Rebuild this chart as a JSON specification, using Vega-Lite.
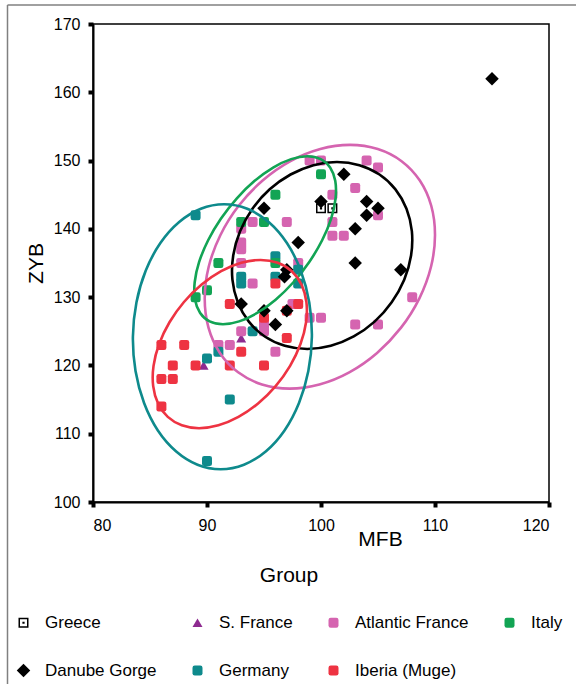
{
  "$schema": "https://vega.github.io/schema/vega-lite/v6.json",
  "width": 456,
  "height": 478,
  "autosize": {"type": "none"},
  "padding": {"left": 93, "top": 24, "right": 27, "bottom": 182},
  "background": "white",
  "config": {
    "font": "Liberation Sans",
    "view": {"stroke": "#000", "strokeWidth": 1.5},
    "axis": {
      "grid": false,
      "domainColor": "#000",
      "domainWidth": 2,
      "tickColor": "#000",
      "tickSize": 5,
      "tickWidth": 4,
      "labelColor": "#000",
      "labelFontSize": 16,
      "labelFont": "Liberation Sans",
      "titleColor": "#000",
      "titleFontSize": 21,
      "titleFontWeight": "normal",
      "titleFont": "Liberation Sans"
    }
  },
  "datasets": {
    "pts": [
      {"g": "S. France", "MFB": 93, "ZYB": 124},
      {"g": "S. France", "MFB": 89.7, "ZYB": 120},
      {"g": "Greece", "MFB": 100, "ZYB": 143},
      {"g": "Greece", "MFB": 101, "ZYB": 143},
      {"g": "Atlantic France", "MFB": 99, "ZYB": 150},
      {"g": "Atlantic France", "MFB": 100, "ZYB": 150},
      {"g": "Atlantic France", "MFB": 104, "ZYB": 150},
      {"g": "Atlantic France", "MFB": 105, "ZYB": 149},
      {"g": "Atlantic France", "MFB": 101, "ZYB": 145},
      {"g": "Atlantic France", "MFB": 103, "ZYB": 146},
      {"g": "Atlantic France", "MFB": 105, "ZYB": 142},
      {"g": "Atlantic France", "MFB": 101, "ZYB": 141},
      {"g": "Atlantic France", "MFB": 101, "ZYB": 139},
      {"g": "Atlantic France", "MFB": 102, "ZYB": 139},
      {"g": "Atlantic France", "MFB": 94, "ZYB": 141},
      {"g": "Atlantic France", "MFB": 97, "ZYB": 141},
      {"g": "Atlantic France", "MFB": 93, "ZYB": 140},
      {"g": "Atlantic France", "MFB": 93, "ZYB": 138},
      {"g": "Atlantic France", "MFB": 93, "ZYB": 137},
      {"g": "Atlantic France", "MFB": 93, "ZYB": 135},
      {"g": "Atlantic France", "MFB": 94, "ZYB": 132},
      {"g": "Atlantic France", "MFB": 98, "ZYB": 135},
      {"g": "Atlantic France", "MFB": 97.5, "ZYB": 129},
      {"g": "Atlantic France", "MFB": 99, "ZYB": 127},
      {"g": "Atlantic France", "MFB": 100, "ZYB": 127},
      {"g": "Atlantic France", "MFB": 103, "ZYB": 126},
      {"g": "Atlantic France", "MFB": 105, "ZYB": 126},
      {"g": "Atlantic France", "MFB": 108, "ZYB": 130},
      {"g": "Atlantic France", "MFB": 95, "ZYB": 126},
      {"g": "Atlantic France", "MFB": 95, "ZYB": 125},
      {"g": "Atlantic France", "MFB": 93, "ZYB": 125},
      {"g": "Atlantic France", "MFB": 91, "ZYB": 123},
      {"g": "Atlantic France", "MFB": 92, "ZYB": 123},
      {"g": "Atlantic France", "MFB": 96, "ZYB": 122},
      {"g": "Germany", "MFB": 89, "ZYB": 142},
      {"g": "Germany", "MFB": 96, "ZYB": 136},
      {"g": "Germany", "MFB": 96, "ZYB": 133},
      {"g": "Germany", "MFB": 93, "ZYB": 133},
      {"g": "Germany", "MFB": 93, "ZYB": 132},
      {"g": "Germany", "MFB": 98, "ZYB": 134},
      {"g": "Germany", "MFB": 98, "ZYB": 132},
      {"g": "Germany", "MFB": 94, "ZYB": 125},
      {"g": "Germany", "MFB": 91, "ZYB": 122},
      {"g": "Germany", "MFB": 90, "ZYB": 121},
      {"g": "Germany", "MFB": 92, "ZYB": 115},
      {"g": "Germany", "MFB": 90, "ZYB": 106},
      {"g": "Italy", "MFB": 100, "ZYB": 148},
      {"g": "Italy", "MFB": 96, "ZYB": 145},
      {"g": "Italy", "MFB": 93, "ZYB": 141},
      {"g": "Italy", "MFB": 95, "ZYB": 141},
      {"g": "Italy", "MFB": 91, "ZYB": 135},
      {"g": "Italy", "MFB": 96, "ZYB": 135},
      {"g": "Italy", "MFB": 90, "ZYB": 131},
      {"g": "Italy", "MFB": 89, "ZYB": 130},
      {"g": "Iberia (Muge)", "MFB": 96, "ZYB": 132},
      {"g": "Iberia (Muge)", "MFB": 92, "ZYB": 129},
      {"g": "Iberia (Muge)", "MFB": 98, "ZYB": 129},
      {"g": "Iberia (Muge)", "MFB": 95, "ZYB": 127},
      {"g": "Iberia (Muge)", "MFB": 97, "ZYB": 128},
      {"g": "Iberia (Muge)", "MFB": 97, "ZYB": 124},
      {"g": "Iberia (Muge)", "MFB": 86, "ZYB": 123},
      {"g": "Iberia (Muge)", "MFB": 88, "ZYB": 123},
      {"g": "Iberia (Muge)", "MFB": 93, "ZYB": 122},
      {"g": "Iberia (Muge)", "MFB": 87, "ZYB": 120},
      {"g": "Iberia (Muge)", "MFB": 89, "ZYB": 120},
      {"g": "Iberia (Muge)", "MFB": 92, "ZYB": 120},
      {"g": "Iberia (Muge)", "MFB": 95, "ZYB": 120},
      {"g": "Iberia (Muge)", "MFB": 86, "ZYB": 118},
      {"g": "Iberia (Muge)", "MFB": 87, "ZYB": 118},
      {"g": "Iberia (Muge)", "MFB": 86, "ZYB": 114},
      {"g": "Danube Gorge", "MFB": 115, "ZYB": 162},
      {"g": "Danube Gorge", "MFB": 102, "ZYB": 148},
      {"g": "Danube Gorge", "MFB": 95, "ZYB": 143},
      {"g": "Danube Gorge", "MFB": 100, "ZYB": 144},
      {"g": "Danube Gorge", "MFB": 104, "ZYB": 144},
      {"g": "Danube Gorge", "MFB": 105, "ZYB": 143},
      {"g": "Danube Gorge", "MFB": 104, "ZYB": 142},
      {"g": "Danube Gorge", "MFB": 103, "ZYB": 140},
      {"g": "Danube Gorge", "MFB": 98, "ZYB": 138},
      {"g": "Danube Gorge", "MFB": 103, "ZYB": 135},
      {"g": "Danube Gorge", "MFB": 107, "ZYB": 134},
      {"g": "Danube Gorge", "MFB": 97, "ZYB": 134},
      {"g": "Danube Gorge", "MFB": 96.8, "ZYB": 133},
      {"g": "Danube Gorge", "MFB": 93, "ZYB": 129},
      {"g": "Danube Gorge", "MFB": 95, "ZYB": 128},
      {"g": "Danube Gorge", "MFB": 97, "ZYB": 128},
      {"g": "Danube Gorge", "MFB": 96, "ZYB": 126}
    ],
    "ell": [
      {"g": "Danube Gorge", "i": 0, "MFB": 107.9, "ZYB": 136.1},
      {"g": "Danube Gorge", "i": 1, "MFB": 107.97, "ZYB": 139.65},
      {"g": "Danube Gorge", "i": 2, "MFB": 107.5, "ZYB": 142.95},
      {"g": "Danube Gorge", "i": 3, "MFB": 106.53, "ZYB": 145.79},
      {"g": "Danube Gorge", "i": 4, "MFB": 105.13, "ZYB": 147.96},
      {"g": "Danube Gorge", "i": 5, "MFB": 103.37, "ZYB": 149.33},
      {"g": "Danube Gorge", "i": 6, "MFB": 101.4, "ZYB": 149.8},
      {"g": "Danube Gorge", "i": 7, "MFB": 99.34, "ZYB": 149.33},
      {"g": "Danube Gorge", "i": 8, "MFB": 97.33, "ZYB": 147.96},
      {"g": "Danube Gorge", "i": 9, "MFB": 95.5, "ZYB": 145.79},
      {"g": "Danube Gorge", "i": 10, "MFB": 93.99, "ZYB": 142.95},
      {"g": "Danube Gorge", "i": 11, "MFB": 92.9, "ZYB": 139.65},
      {"g": "Danube Gorge", "i": 12, "MFB": 92.3, "ZYB": 136.1},
      {"g": "Danube Gorge", "i": 13, "MFB": 92.23, "ZYB": 132.55},
      {"g": "Danube Gorge", "i": 14, "MFB": 92.7, "ZYB": 129.25},
      {"g": "Danube Gorge", "i": 15, "MFB": 93.67, "ZYB": 126.41},
      {"g": "Danube Gorge", "i": 16, "MFB": 95.07, "ZYB": 124.24},
      {"g": "Danube Gorge", "i": 17, "MFB": 96.83, "ZYB": 122.87},
      {"g": "Danube Gorge", "i": 18, "MFB": 98.8, "ZYB": 122.4},
      {"g": "Danube Gorge", "i": 19, "MFB": 100.86, "ZYB": 122.87},
      {"g": "Danube Gorge", "i": 20, "MFB": 102.87, "ZYB": 124.24},
      {"g": "Danube Gorge", "i": 21, "MFB": 104.7, "ZYB": 126.41},
      {"g": "Danube Gorge", "i": 22, "MFB": 106.2, "ZYB": 129.25},
      {"g": "Danube Gorge", "i": 23, "MFB": 107.3, "ZYB": 132.55},
      {"g": "Atlantic France", "i": 0, "MFB": 109.65, "ZYB": 134.45},
      {"g": "Atlantic France", "i": 1, "MFB": 110.0, "ZYB": 139.07},
      {"g": "Atlantic France", "i": 2, "MFB": 109.67, "ZYB": 143.38},
      {"g": "Atlantic France", "i": 3, "MFB": 108.67, "ZYB": 147.07},
      {"g": "Atlantic France", "i": 4, "MFB": 107.07, "ZYB": 149.91},
      {"g": "Atlantic France", "i": 5, "MFB": 104.98, "ZYB": 151.69},
      {"g": "Atlantic France", "i": 6, "MFB": 102.55, "ZYB": 152.3},
      {"g": "Atlantic France", "i": 7, "MFB": 99.94, "ZYB": 151.69},
      {"g": "Atlantic France", "i": 8, "MFB": 97.32, "ZYB": 149.91},
      {"g": "Atlantic France", "i": 9, "MFB": 94.88, "ZYB": 147.07},
      {"g": "Atlantic France", "i": 10, "MFB": 92.78, "ZYB": 143.38},
      {"g": "Atlantic France", "i": 11, "MFB": 91.17, "ZYB": 139.07},
      {"g": "Atlantic France", "i": 12, "MFB": 90.15, "ZYB": 134.45},
      {"g": "Atlantic France", "i": 13, "MFB": 89.8, "ZYB": 129.83},
      {"g": "Atlantic France", "i": 14, "MFB": 90.13, "ZYB": 125.53},
      {"g": "Atlantic France", "i": 15, "MFB": 91.13, "ZYB": 121.83},
      {"g": "Atlantic France", "i": 16, "MFB": 92.73, "ZYB": 118.99},
      {"g": "Atlantic France", "i": 17, "MFB": 94.82, "ZYB": 117.21},
      {"g": "Atlantic France", "i": 18, "MFB": 97.25, "ZYB": 116.6},
      {"g": "Atlantic France", "i": 19, "MFB": 99.86, "ZYB": 117.21},
      {"g": "Atlantic France", "i": 20, "MFB": 102.48, "ZYB": 118.99},
      {"g": "Atlantic France", "i": 21, "MFB": 104.92, "ZYB": 121.83},
      {"g": "Atlantic France", "i": 22, "MFB": 107.02, "ZYB": 125.53},
      {"g": "Atlantic France", "i": 23, "MFB": 108.63, "ZYB": 129.83},
      {"g": "Italy", "i": 0, "MFB": 100.1, "ZYB": 138.33},
      {"g": "Italy", "i": 1, "MFB": 100.89, "ZYB": 141.51},
      {"g": "Italy", "i": 2, "MFB": 101.28, "ZYB": 144.48},
      {"g": "Italy", "i": 3, "MFB": 101.25, "ZYB": 147.03},
      {"g": "Italy", "i": 4, "MFB": 100.8, "ZYB": 148.98},
      {"g": "Italy", "i": 5, "MFB": 99.97, "ZYB": 150.21},
      {"g": "Italy", "i": 6, "MFB": 98.8, "ZYB": 150.63},
      {"g": "Italy", "i": 7, "MFB": 97.38, "ZYB": 150.21},
      {"g": "Italy", "i": 8, "MFB": 95.8, "ZYB": 148.98},
      {"g": "Italy", "i": 9, "MFB": 94.18, "ZYB": 147.03},
      {"g": "Italy", "i": 10, "MFB": 92.62, "ZYB": 144.48},
      {"g": "Italy", "i": 11, "MFB": 91.23, "ZYB": 141.51},
      {"g": "Italy", "i": 12, "MFB": 90.1, "ZYB": 138.33},
      {"g": "Italy", "i": 13, "MFB": 89.31, "ZYB": 135.15},
      {"g": "Italy", "i": 14, "MFB": 88.92, "ZYB": 132.18},
      {"g": "Italy", "i": 15, "MFB": 88.95, "ZYB": 129.63},
      {"g": "Italy", "i": 16, "MFB": 89.4, "ZYB": 127.68},
      {"g": "Italy", "i": 17, "MFB": 90.23, "ZYB": 126.45},
      {"g": "Italy", "i": 18, "MFB": 91.4, "ZYB": 126.03},
      {"g": "Italy", "i": 19, "MFB": 92.82, "ZYB": 126.45},
      {"g": "Italy", "i": 20, "MFB": 94.4, "ZYB": 127.68},
      {"g": "Italy", "i": 21, "MFB": 96.02, "ZYB": 129.63},
      {"g": "Italy", "i": 22, "MFB": 97.58, "ZYB": 132.18},
      {"g": "Italy", "i": 23, "MFB": 98.97, "ZYB": 135.15},
      {"g": "Germany", "i": 0, "MFB": 99.2, "ZYB": 124.2},
      {"g": "Germany", "i": 1, "MFB": 98.97, "ZYB": 129.22},
      {"g": "Germany", "i": 2, "MFB": 98.22, "ZYB": 133.9},
      {"g": "Germany", "i": 3, "MFB": 97.01, "ZYB": 137.92},
      {"g": "Germany", "i": 4, "MFB": 95.41, "ZYB": 141.0},
      {"g": "Germany", "i": 5, "MFB": 93.53, "ZYB": 142.94},
      {"g": "Germany", "i": 6, "MFB": 91.5, "ZYB": 143.6},
      {"g": "Germany", "i": 7, "MFB": 89.46, "ZYB": 142.94},
      {"g": "Germany", "i": 8, "MFB": 87.56, "ZYB": 141.0},
      {"g": "Germany", "i": 9, "MFB": 85.91, "ZYB": 137.92},
      {"g": "Germany", "i": 10, "MFB": 84.63, "ZYB": 133.9},
      {"g": "Germany", "i": 11, "MFB": 83.81, "ZYB": 129.22},
      {"g": "Germany", "i": 12, "MFB": 83.5, "ZYB": 124.2},
      {"g": "Germany", "i": 13, "MFB": 83.73, "ZYB": 119.18},
      {"g": "Germany", "i": 14, "MFB": 84.48, "ZYB": 114.5},
      {"g": "Germany", "i": 15, "MFB": 85.69, "ZYB": 110.48},
      {"g": "Germany", "i": 16, "MFB": 87.3, "ZYB": 107.4},
      {"g": "Germany", "i": 17, "MFB": 89.17, "ZYB": 105.46},
      {"g": "Germany", "i": 18, "MFB": 91.2, "ZYB": 104.8},
      {"g": "Germany", "i": 19, "MFB": 93.24, "ZYB": 105.46},
      {"g": "Germany", "i": 20, "MFB": 95.15, "ZYB": 107.4},
      {"g": "Germany", "i": 21, "MFB": 96.8, "ZYB": 110.48},
      {"g": "Germany", "i": 22, "MFB": 98.07, "ZYB": 114.5},
      {"g": "Germany", "i": 23, "MFB": 98.89, "ZYB": 119.18},
      {"g": "Iberia (Muge)", "i": 0, "MFB": 98.2, "ZYB": 123.13},
      {"g": "Iberia (Muge)", "i": 1, "MFB": 98.69, "ZYB": 126.32},
      {"g": "Iberia (Muge)", "i": 2, "MFB": 98.72, "ZYB": 129.29},
      {"g": "Iberia (Muge)", "i": 3, "MFB": 98.29, "ZYB": 131.84},
      {"g": "Iberia (Muge)", "i": 4, "MFB": 97.44, "ZYB": 133.8},
      {"g": "Iberia (Muge)", "i": 5, "MFB": 96.21, "ZYB": 135.03},
      {"g": "Iberia (Muge)", "i": 6, "MFB": 94.7, "ZYB": 135.45},
      {"g": "Iberia (Muge)", "i": 7, "MFB": 93.0, "ZYB": 135.03},
      {"g": "Iberia (Muge)", "i": 8, "MFB": 91.24, "ZYB": 133.8},
      {"g": "Iberia (Muge)", "i": 9, "MFB": 89.53, "ZYB": 131.84},
      {"g": "Iberia (Muge)", "i": 10, "MFB": 87.98, "ZYB": 129.29},
      {"g": "Iberia (Muge)", "i": 11, "MFB": 86.71, "ZYB": 126.32},
      {"g": "Iberia (Muge)", "i": 12, "MFB": 85.8, "ZYB": 123.13},
      {"g": "Iberia (Muge)", "i": 13, "MFB": 85.31, "ZYB": 119.94},
      {"g": "Iberia (Muge)", "i": 14, "MFB": 85.28, "ZYB": 116.97},
      {"g": "Iberia (Muge)", "i": 15, "MFB": 85.71, "ZYB": 114.42},
      {"g": "Iberia (Muge)", "i": 16, "MFB": 86.56, "ZYB": 112.46},
      {"g": "Iberia (Muge)", "i": 17, "MFB": 87.79, "ZYB": 111.23},
      {"g": "Iberia (Muge)", "i": 18, "MFB": 89.3, "ZYB": 110.81},
      {"g": "Iberia (Muge)", "i": 19, "MFB": 91.0, "ZYB": 111.23},
      {"g": "Iberia (Muge)", "i": 20, "MFB": 92.76, "ZYB": 112.46},
      {"g": "Iberia (Muge)", "i": 21, "MFB": 94.48, "ZYB": 114.42},
      {"g": "Iberia (Muge)", "i": 22, "MFB": 96.02, "ZYB": 116.97},
      {"g": "Iberia (Muge)", "i": 23, "MFB": 97.29, "ZYB": 119.94}
    ]
  },
  "layer": [
    {
      "data": {"values": [{}]},
      "mark": {"type": "rule", "color": "#808080", "strokeWidth": 1.5},
      "encoding": {
        "x": {"datum": 72.5, "type": "quantitative", "scale": {"domain": [80, 120], "nice": false}},
        "y": {"datum": 172.8, "type": "quantitative", "scale": {"domain": [100, 170], "nice": false}},
        "y2": {"datum": 60}
      }
    },
    {
      "data": {"values": [{}]},
      "mark": {"type": "rule", "color": "#808080", "strokeWidth": 1.5},
      "encoding": {
        "x": {"datum": 72.5, "type": "quantitative"},
        "x2": {"datum": 130},
        "y": {"datum": 172.8, "type": "quantitative"}
      }
    },
    {
      "data": {"name": "pts"},
      "mark": {"type": "point", "filled": true, "opacity": 1, "size": 100, "strokeWidth": 0},
      "encoding": {
        "x": {
          "field": "MFB", "type": "quantitative",
          "scale": {"domain": [80, 120], "nice": false},
          "axis": {"values": [80, 90, 100, 110, 120], "title": "MFB", "labelPadding": 10, "titleX": 287, "titleY": 43, "titleBaseline": "alphabetic"}
        },
        "y": {
          "field": "ZYB", "type": "quantitative",
          "scale": {"domain": [100, 170], "nice": false},
          "axis": {"values": [100, 110, 120, 130, 140, 150, 160, 170], "title": "ZYB", "labelPadding": 8, "titleX": -57, "titleY": 239, "titleBaseline": "middle"}
        },
        "fill": {
          "field": "g", "type": "nominal", "title": "Group",
          "scale": {
            "domain": ["Greece", "Danube Gorge", "S. France", "Germany", "Atlantic France", "Iberia (Muge)", "Italy"],
            "range": ["#000000", "#000000", "#8E2A90", "#0E8A8C", "#D564B0", "#EE3342", "#12A454"]
          },
          "legend": {
            "orient": "none", "legendX": -78, "legendY": 541, "columns": 4, "columnPadding": 32, "rowPadding": 30,
            "labelFontSize": 17, "labelColor": "#000", "labelOffset": 13, "labelLimit": 300,
            "titleFontSize": 21, "titleFontWeight": "normal", "titleColor": "#000", "titleAnchor": "middle", "titlePadding": 28,
            "symbolSize": 100, "symbolStrokeWidth": 0, "padding": 0
          }
        },
        "shape": {
          "field": "g", "type": "nominal", "title": "Group",
          "scale": {
            "domain": ["Greece", "Danube Gorge", "S. France", "Germany", "Atlantic France", "Iberia (Muge)", "Italy"],
            "range": [
              "M-1,-1H1V1H-1Z M-0.7,-0.7V0.7H0.7V-0.7Z M-0.22,-0.22H0.22V0.22H-0.22Z",
              "M0,-1.35L1.35,0L0,1.35L-1.35,0Z",
              "triangle-up",
              "M-1,-0.55Q-1,-1,-0.55,-1H0.55Q1,-1,1,-0.55V0.55Q1,1,0.55,1H-0.55Q-1,1,-1,0.55Z",
              "M-1,-0.55Q-1,-1,-0.55,-1H0.55Q1,-1,1,-0.55V0.55Q1,1,0.55,1H-0.55Q-1,1,-1,0.55Z",
              "M-1,-0.55Q-1,-1,-0.55,-1H0.55Q1,-1,1,-0.55V0.55Q1,1,0.55,1H-0.55Q-1,1,-1,0.55Z",
              "M-1,-0.55Q-1,-1,-0.55,-1H0.55Q1,-1,1,-0.55V0.55Q1,1,0.55,1H-0.55Q-1,1,-1,0.55Z"
            ]
          },
          "legend": {
            "orient": "none", "legendX": -78, "legendY": 541, "columns": 4, "columnPadding": 32, "rowPadding": 30,
            "labelFontSize": 17, "labelColor": "#000", "labelOffset": 13, "labelLimit": 300,
            "titleFontSize": 21, "titleFontWeight": "normal", "titleColor": "#000", "titleAnchor": "middle", "titlePadding": 28,
            "symbolSize": 100, "symbolStrokeWidth": 0, "padding": 0
          }
        }
      }
    },
    {
      "data": {"name": "ell"},
      "mark": {"type": "line", "interpolate": "cardinal-closed", "strokeWidth": 2.6},
      "encoding": {
        "x": {"field": "MFB", "type": "quantitative"},
        "y": {"field": "ZYB", "type": "quantitative"},
        "stroke": {
          "field": "g", "type": "nominal", "legend": null,
          "scale": {
            "domain": ["Danube Gorge", "Atlantic France", "Italy", "Germany", "Iberia (Muge)"],
            "range": ["#000000", "#D564B0", "#12A454", "#0E8A8C", "#EE3342"]
          }
        },
        "order": {"field": "i", "type": "quantitative"}
      }
    }
  ]
}
